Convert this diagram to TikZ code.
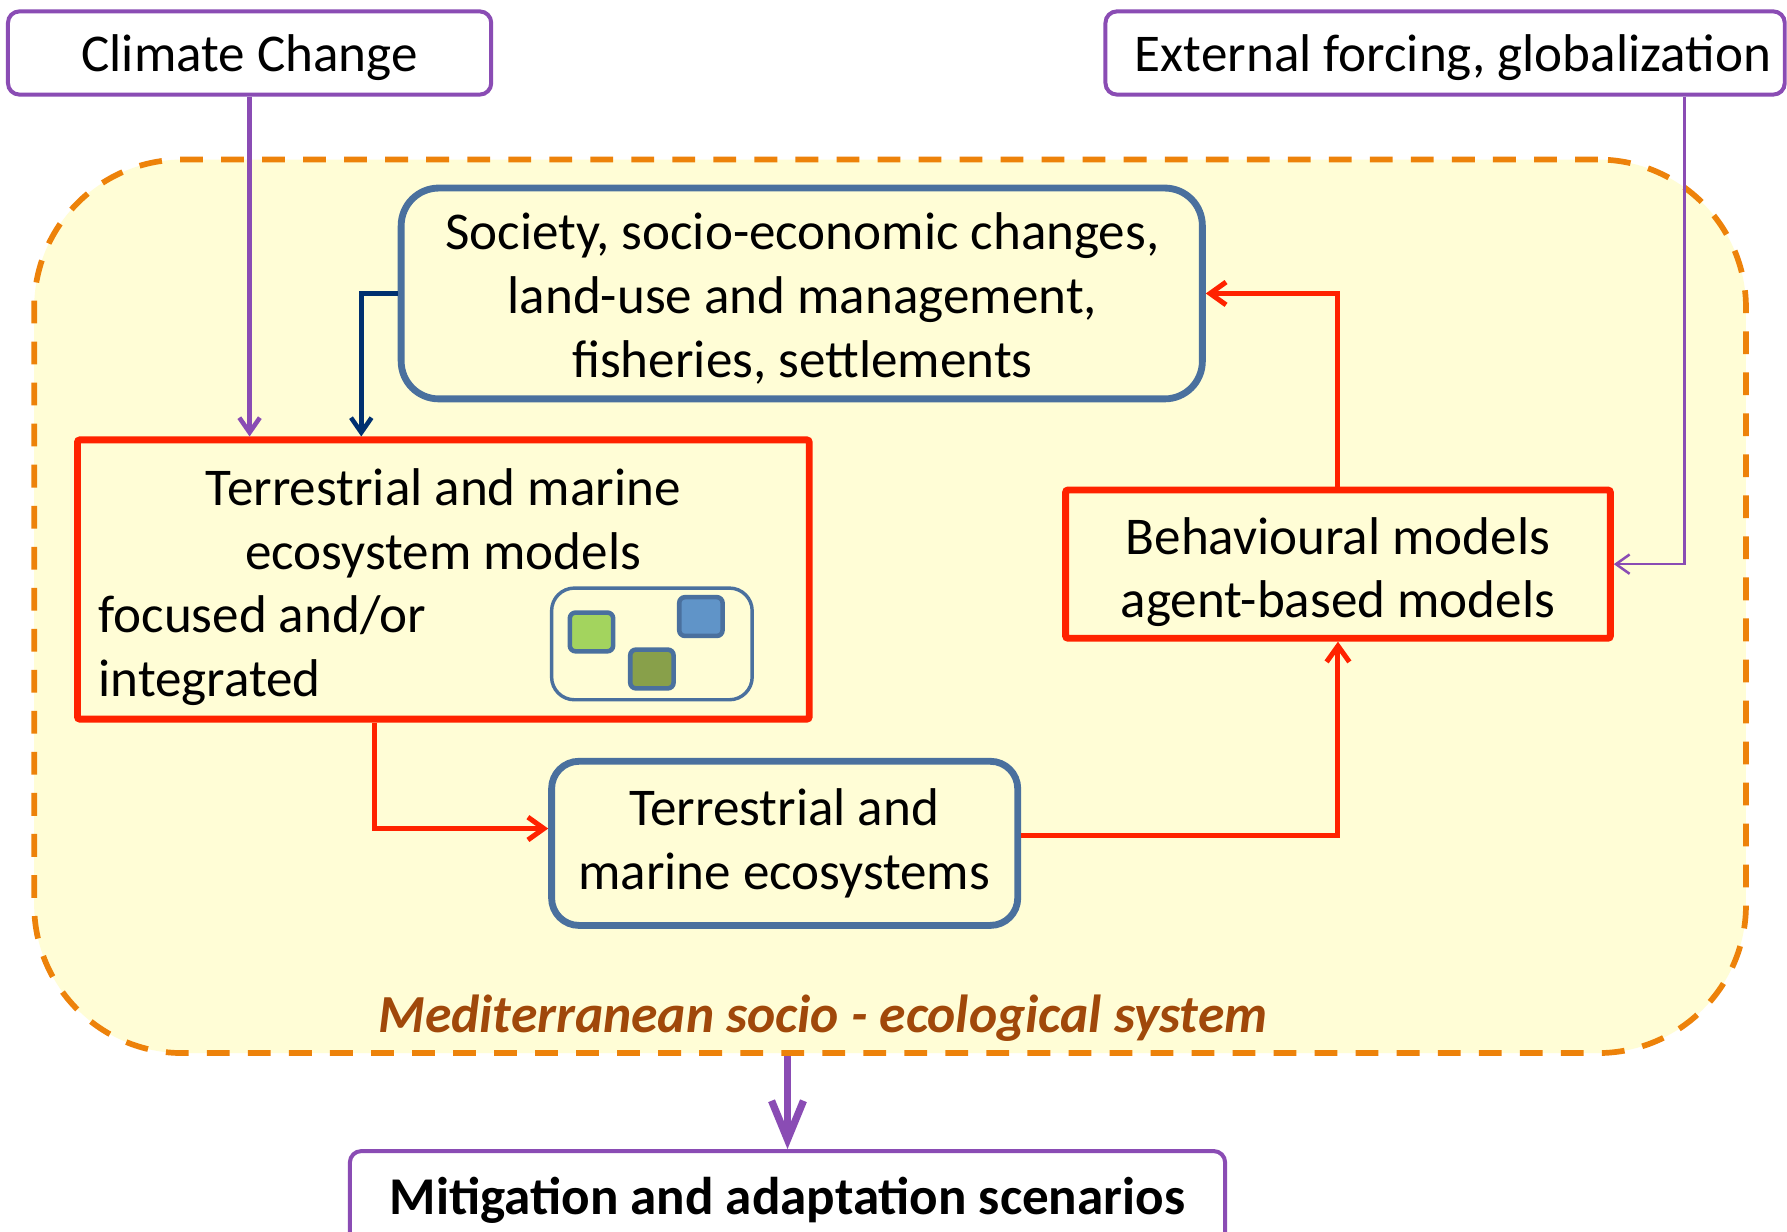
\documentclass[tikz,border=0pt]{standalone}
\usepackage{fontspec}
\setmainfont{Carlito}
\usetikzlibrary{arrows.meta,calc}
\definecolor{cpurple}{RGB}{138,76,180}
\definecolor{corange}{RGB}{237,130,10}
\definecolor{cfill}{RGB}{255,253,214}
\definecolor{cblue}{RGB}{74,112,158}
\definecolor{cred}{RGB}{255,34,0}
\definecolor{cnavy}{RGB}{0,48,112}
\definecolor{cbrown}{RGB}{160,72,10}
\definecolor{cgreen}{RGB}{163,212,94}
\definecolor{csqblue}{RGB}{96,148,200}
\definecolor{colive}{RGB}{136,160,74}
\tikzset{
  txt/.style={font=\fontsize{23.3pt}{28pt}\selectfont, align=center, inner sep=0pt},
  purplebox/.style={draw=cpurple, line width=1.75pt, rounded corners=5pt, fill=white, inner sep=0pt},
  bluebox/.style={draw=cblue, line width=3pt, inner sep=0pt},
  redbox/.style={draw=cred, line width=3pt, inner sep=0pt, rounded corners=1pt},
  sq/.style={draw=cblue, line width=2pt, rounded corners=2.5pt, minimum width=19pt, minimum height=17pt, inner sep=0pt},
  purplearrow/.style={draw=cpurple, line width=2pt, -{Straight Barb[length=6.5pt,width=9pt]}},
  thinpurplearrow/.style={draw=cpurple, line width=1.1pt, -{Straight Barb[length=6pt,width=8.5pt]}},
  navyarrow/.style={draw=cnavy, line width=2pt, -{Straight Barb[length=6.5pt,width=9pt]}},
  redarrow/.style={draw=cred, line width=2.2pt, -{Straight Barb[length=7pt,width=10pt]}},
  bigarrow/.style={draw=cpurple, line width=3.2pt, -{Straight Barb[length=17pt,width=14pt]}},
}
\begin{document}
\begin{tikzpicture}[x=0.5pt,y=-0.5pt]
\clip (0,0) rectangle (1568,1081);
\fill[white] (0,0) rectangle (1568,1081);

% system boundary
\node[draw=corange, fill=cfill, line width=2.5pt, dash pattern=on 10pt off 8pt,
      rounded corners=65pt, minimum width=751pt, minimum height=392pt, inner sep=0pt]
      (system) at (781,532) {};

% top boxes
\node[purplebox, minimum width=212pt, minimum height=36.5pt] (climate) at (219,46.5) {};
\node[txt] (climatetxt) at (219,51) {Climate Change};
\node[purplebox, minimum width=298pt, minimum height=36.5pt] (external) at (1268,46.5) {};
\node[txt] (externaltxt) at (1275,51) {External forcing, globalization};

% society
\node[bluebox, rounded corners=16.5pt, minimum width=351.5pt, minimum height=92.5pt] (society) at (703.5,257.5) {};
\node[txt] (societytxt) at (704,262) {Society, socio-economic changes,\\land-use and management,\\fisheries, settlements};

% models box
\node[redbox, minimum width=321pt, minimum height=122.5pt] (models) at (389,508.5) {};
\node[txt] (modelstxt) at (389,459) {Terrestrial and marine\\ecosystem models};
\node[txt, align=left, anchor=west] (focustxt) at (86,571) {focused and/or\\integrated};

% icon
\node[draw=cblue, line width=1.5pt, rounded corners=10pt, minimum width=88pt, minimum height=49pt, inner sep=0pt] (icon) at (572,565) {};
\node[sq, fill=cgreen] (sqa) at (519,554.5) {};
\node[sq, fill=csqblue] (sqb) at (615,541) {};
\node[sq, fill=colive] (sqc) at (572,587) {};

% ecosystems
\node[bluebox, rounded corners=12pt, minimum width=204.5pt, minimum height=72pt] (eco) at (688.5,740) {};
\node[txt] (ecotxt) at (688,740) {Terrestrial and\\marine ecosystems};

% behavioural
\node[redbox, minimum width=239pt, minimum height=65pt] (behav) at (1174,495) {};
\node[txt] (behavtxt) at (1174,502) {Behavioural models\\agent-based models};

% system label
\node[txt, font=\fontsize{23.5pt}{28pt}\selectfont\bfseries\itshape, text=cbrown] (systemtxt) at (722,893) {Mediterranean socio - ecological system};

% mitigation
\node[purplebox, minimum width=384pt, minimum height=42.5pt] (mitig) at (691,1052.5) {};
\node[txt, font=\fontsize{23.3pt}{28pt}\selectfont\bfseries] (mitigtxt) at (691,1053) {Mitigation and adaptation scenarios};

% connectors
\draw[purplearrow] (climate.south) -- (climate.south |- models.north);
\draw[navyarrow] (society.west) -| ([xshift=126pt]models.north west);
\draw[redarrow] ([xshift=132pt]models.south west) |- ([yshift=6.5pt]eco.west);
\draw[redarrow] ([yshift=3.5pt]eco.east) -| (behav.south);
\draw[redarrow] (behav.north) |- (society.east);
\draw[thinpurplearrow] ([xshift=105pt]external.south) |- (behav.east);
\draw[bigarrow] (mitig.north |- system.south) -- (mitig.north);
\end{tikzpicture}
\end{document}
